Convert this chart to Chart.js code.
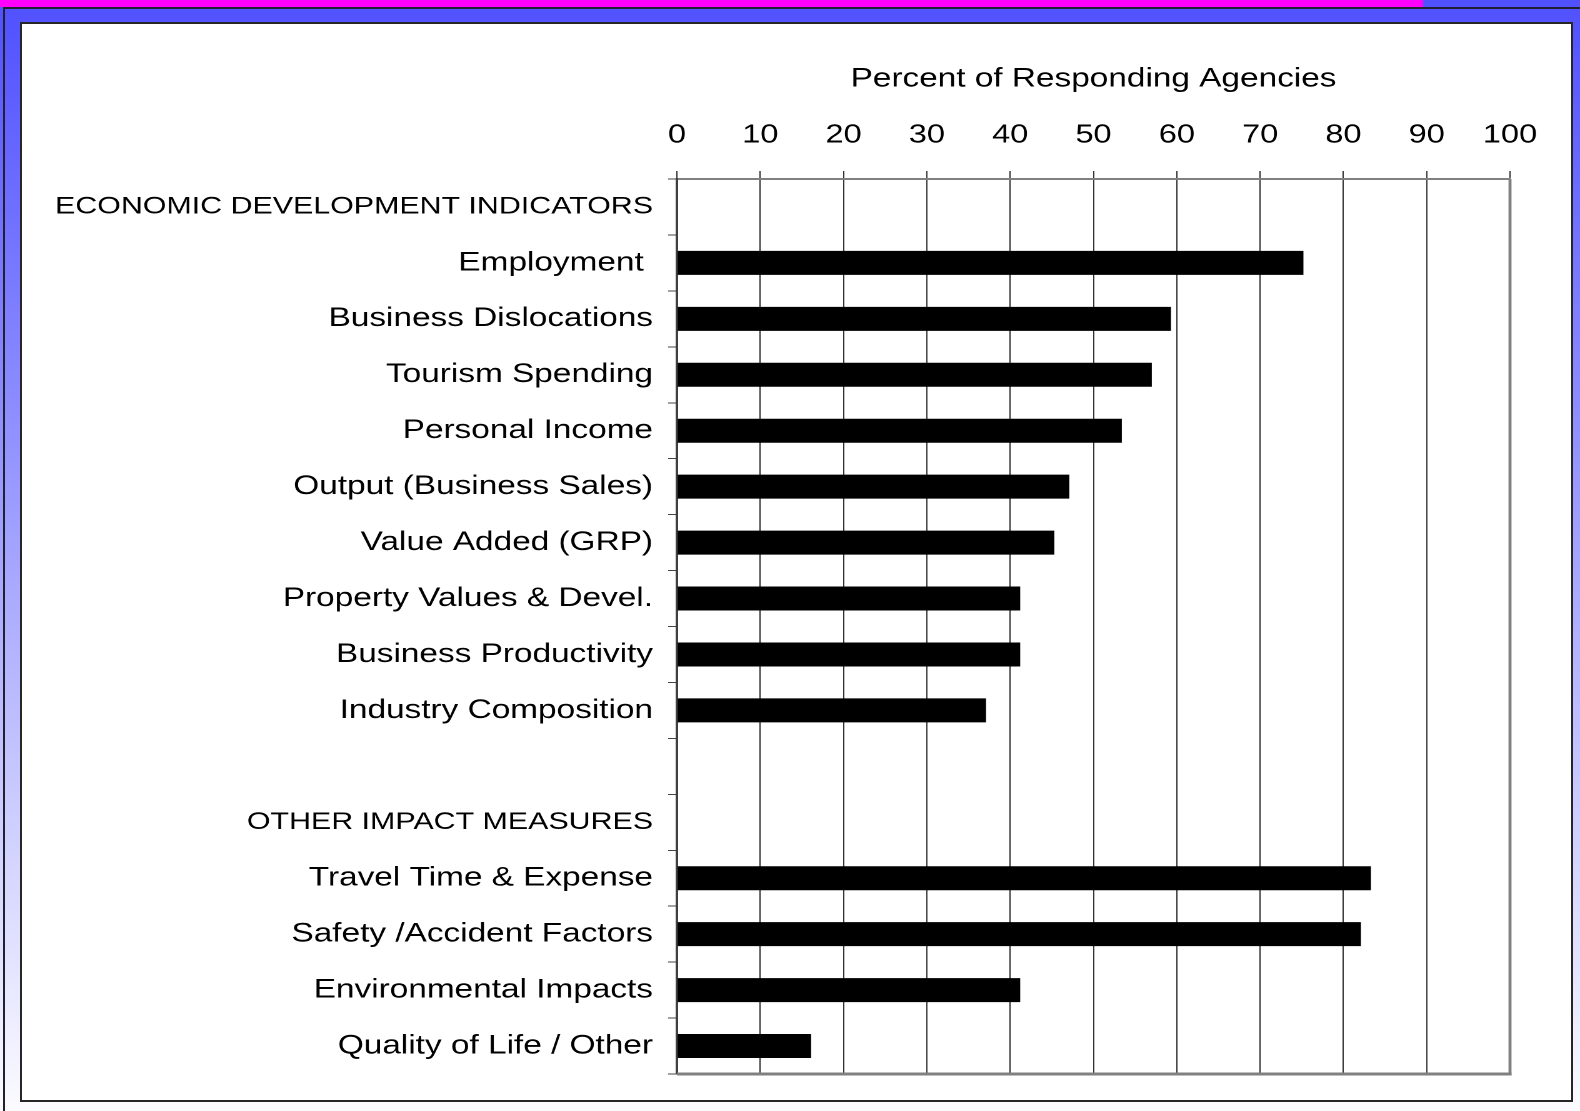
<!DOCTYPE html>
<html>
<head>
<meta charset="utf-8">
<title>Percent of Responding Agencies</title>
<script src="https://cdn.jsdelivr.net/npm/chart.js@4.4.1/dist/chart.umd.min.js"></script>
<style>
  html, body {
    margin: 0;
    padding: 0;
  }
  body {
    width: 1580px;
    height: 1111px;
    position: relative;
    overflow: hidden;
    background: linear-gradient(to bottom, #5050ff 0%, #8a8aff 35%, #d0d0ff 75%, #fbfbff 100%);
    font-family: 'Liberation Sans', Arial, sans-serif;
  }
  .topband {
    position: absolute;
    left: 0;
    top: 0;
    width: 1423px;
    height: 7px;
    background: #ff00ff;
  }
  .topline {
    position: absolute;
    left: 3px;
    top: 7px;
    right: 0;
    height: 2px;
    background: #202030;
  }
  .leftline {
    position: absolute;
    left: 3px;
    top: 7px;
    bottom: 0;
    width: 2px;
    background: #202030;
  }
  .panel {
    position: absolute;
    left: 20px;
    top: 22px;
    width: 1549px;
    height: 1076px;
    background: #fff;
    border: 2px solid #262626;
  }
  /* the source slide is stretched sideways, so the chart is drawn narrow and widened */
  .chart-box {
    position: absolute;
    left: 0;
    top: 0;
    width: 1264px;
    height: 1111px;
    transform-origin: 0 0;
    transform: scaleX(1.25);
  }
</style>
</head>
<body>
<div class="topband"></div>
<div class="topline"></div>
<div class="leftline"></div>
<div class="panel"></div>
<div class="chart-box"><canvas id="agencyChart"></canvas></div>

<script>
const categories = [
  'ECONOMIC DEVELOPMENT INDICATORS',
  'Employment ',
  'Business Dislocations',
  'Tourism Spending',
  'Personal Income',
  'Output (Business Sales)',
  'Value Added (GRP)',
  'Property Values & Devel.',
  'Business Productivity',
  'Industry Composition',
  '',
  'OTHER IMPACT MEASURES',
  'Travel Time & Expense',
  'Safety /Accident Factors',
  'Environmental Impacts',
  'Quality of Life / Other',
];

const headerRows = ['ECONOMIC DEVELOPMENT INDICATORS', 'OTHER IMPACT MEASURES'];

const percentValues = [null, 75.2, 59.3, 57, 53.4, 47.1, 45.3, 41.2, 41.2, 37.1, null, null, 83.3, 82.1, 41.2, 16.1];

const axisMin = 0;
const axisMax = 100;
const axisStep = 10;

const FONT = "'Liberation Sans', Arial, sans-serif";

// right and bottom edge of the plot frame
const plotFrame = {
  id: 'plotFrame',
  afterDraw(chart) {
    const { ctx, chartArea } = chart;
    ctx.save();
    ctx.strokeStyle = '#808080';
    ctx.lineWidth = 3;
    ctx.beginPath();
    ctx.moveTo(chartArea.left, chartArea.bottom);
    ctx.lineTo(chartArea.right + 1.2, chartArea.bottom);
    ctx.stroke();
    ctx.lineWidth = 2.4;
    ctx.beginPath();
    ctx.moveTo(chartArea.right, chartArea.top);
    ctx.lineTo(chartArea.right, chartArea.bottom + 1.5);
    ctx.stroke();
    ctx.restore();
  },
};

new Chart(document.getElementById('agencyChart'), {
  type: 'bar',
  data: {
    labels: categories,
    datasets: [
      {
        data: percentValues,
        backgroundColor: '#000',
        borderWidth: 0,
        barPercentage: 0.43,
        categoryPercentage: 1,
      },
    ],
  },
  options: {
    indexAxis: 'y',
    responsive: true,
    maintainAspectRatio: false,
    devicePixelRatio: 2,
    animation: false,
    layout: {
      padding: { left: 0, right: 56, top: 0, bottom: 37 },
    },
    plugins: {
      legend: { display: false },
      tooltip: { enabled: false },
    },
    scales: {
      x: {
        position: 'top',
        min: axisMin,
        max: axisMax,
        afterFit(scale) {
          scale.height = 179;
        },
        ticks: {
          stepSize: axisStep,
          color: '#000',
          padding: 20,
          font: { family: FONT, size: 26 },
        },
        grid: {
          color: '#333',
          lineWidth: 1,
          tickLength: 8,
        },
        border: {
          color: '#808080',
          width: 2,
        },
        title: {
          display: true,
          text: 'Percent of Responding Agencies',
          color: '#000',
          padding: { top: 63, bottom: 0 },
          font: { family: FONT, size: 26.7 },
        },
      },
      y: {
        afterFit(scale) {
          scale.width = 541.6;
        },
        ticks: {
          color: '#000',
          padding: 12,
          autoSkip: false,
          font: (ctx) => ({
            family: FONT,
            size: headerRows.includes(categories[ctx.index]) ? 24.3 : 26.7,
          }),
        },
        grid: {
          drawOnChartArea: false,
          color: '#444',
          tickLength: 7.2,
        },
        border: {
          color: '#404040',
          width: 2,
        },
      },
    },
  },
  plugins: [plotFrame],
});
</script>
</body>
</html>
